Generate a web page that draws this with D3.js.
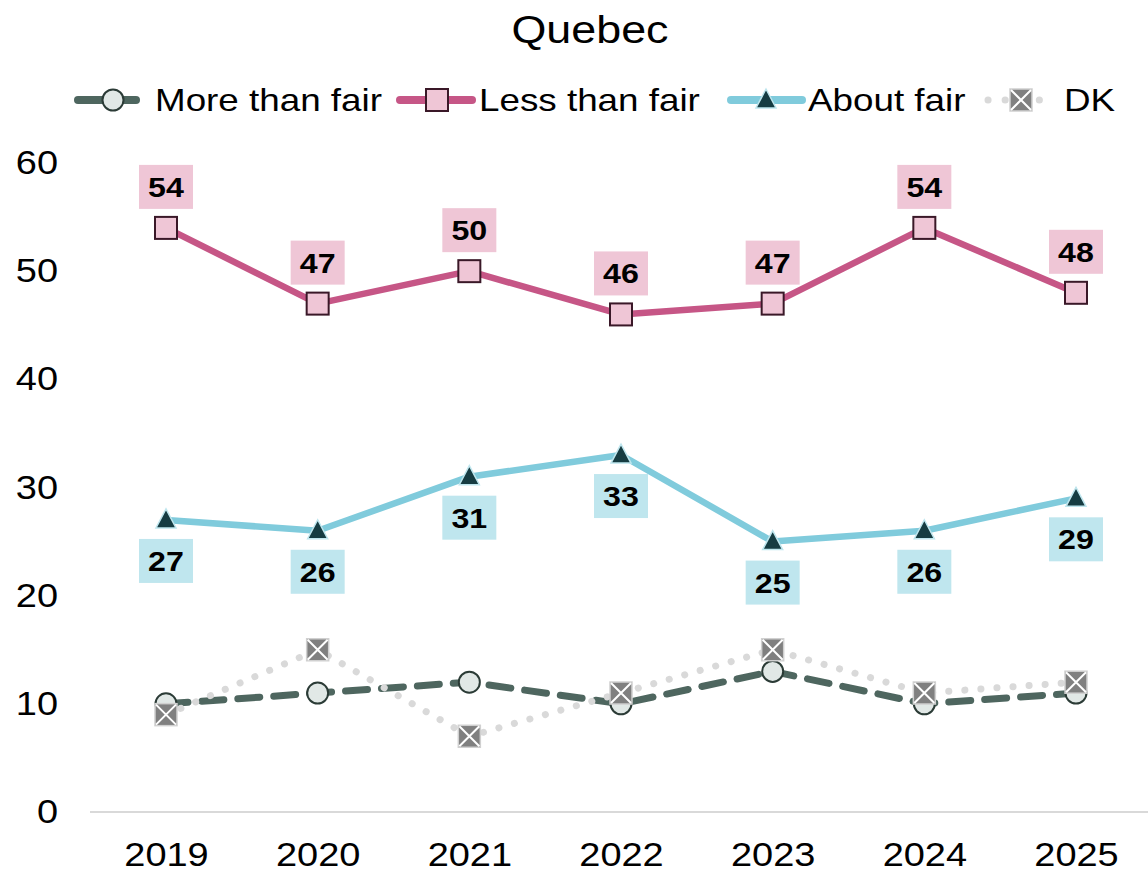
<!DOCTYPE html>
<html>
<head>
<meta charset="utf-8">
<script src="https://cdn.jsdelivr.net/npm/d3@7"></script>
<style>
  body { margin: 0; background: #fff; }
  text { font-family: "Liberation Sans", Arial, sans-serif; }
</style>
</head>
<body>
<div id="chart"></div>
<script>
// Data
const years = ['2019', '2020', '2021', '2022', '2023', '2024', '2025'];
const moreThanFair = [10, 11, 12, 10, 13, 10, 11];
const lessThanFair = [54, 47, 50, 46, 47, 54, 48];
const aboutFair = [27, 26, 31, 33, 25, 26, 29];
const dontKnow = [9, 15, 7, 11, 15, 11, 12];
const yTicks = [0, 10, 20, 30, 40, 50, 60];

const width = 1148, height = 873;
const margin = { top: 163, right: 72, bottom: 61, left: 90 };
const stretch = 1.15; // text in the picture is a little wider than normal

const svg = d3.select('#chart').append('svg')
    .attr('width', width)
    .attr('height', height);

const x = d3.scalePoint()
    .domain(years)
    .range([166, 1076]);

const y = d3.scaleLinear()
    .domain([0, 60])
    .range([height - margin.bottom, margin.top]);

// title
svg.append('text')
    .attr('transform', `translate(590,43) scale(${stretch},1)`)
    .attr('text-anchor', 'middle')
    .style('font-size', '39px')
    .text('Quebec');

// baseline
svg.append('line')
    .attr('x1', margin.left).attr('x2', width)
    .attr('y1', y(0)).attr('y2', y(0))
    .attr('stroke', '#d9d9d9').attr('stroke-width', 2);

// y-axis labels
svg.append('g')
    .attr('transform', `translate(58,0)`)
    .call(d3.axisLeft(y).tickValues(yTicks).tickSize(0).tickPadding(0))
    .call(g => g.select('.domain').remove())
    .selectAll('text')
    .attr('x', 0)
    .attr('text-anchor', 'end')
    .attr('transform', `scale(${stretch},1)`)
    .style('font-size', '33px')
    .style('font-family', '"Liberation Sans", Arial, sans-serif')
    .attr('fill', '#000');

// x-axis labels
svg.append('g')
    .attr('transform', `translate(0,${y(0)})`)
    .call(d3.axisBottom(x).tickSize(0).tickPadding(31))
    .call(g => g.select('.domain').remove())
    .selectAll('text')
    .attr('transform', `scale(${stretch},1)`)
    .style('font-size', '33px')
    .style('font-family', '"Liberation Sans", Arial, sans-serif')
    .attr('fill', '#000');

const series = [
    { name: 'More than fair', values: moreThanFair, color: '#4e665f', width: 7, dash: '22,14', marker: 'circle', fill: '#e1e8e6', stroke: '#2b3b36' },
    { name: 'Less than fair', values: lessThanFair, color: '#c65686', width: 6.5, dash: null, marker: 'square', fill: '#efc6d6', stroke: '#3a1828', label: 'above', labelBg: '#efc6d6' },
    { name: 'About fair', values: aboutFair, color: '#80cbdc', width: 6.5, dash: null, marker: 'triangle', fill: '#163c42', stroke: '#bfe6ee', label: 'below', labelBg: '#bfe6ee' },
    { name: 'DK', values: dontKnow, color: '#d9d9d9', width: 7, dash: '0.1,16', marker: 'xbox', fill: '#808080', stroke: '#d0d0d0' }
];

const line = d3.line()
    .x((d, i) => x(years[i]))
    .y(d => y(d));

const drawMarker = (g, s, cx, cy) => {
    if (s.marker === 'circle') {
        g.append('circle').attr('cx', cx).attr('cy', cy).attr('r', 10.5)
            .attr('fill', s.fill).attr('stroke', s.stroke).attr('stroke-width', 2);
    } else if (s.marker === 'square') {
        g.append('rect').attr('x', cx - 11).attr('y', cy - 11).attr('width', 22).attr('height', 22)
            .attr('fill', s.fill).attr('stroke', s.stroke).attr('stroke-width', 2);
    } else if (s.marker === 'triangle') {
        g.append('path')
            .attr('d', `M${cx},${cy - 11}L${cx + 10},${cy + 8}L${cx - 10},${cy + 8}Z`)
            .attr('fill', s.fill).attr('stroke', s.stroke).attr('stroke-width', 1.5);
    } else {
        g.append('rect').attr('x', cx - 11).attr('y', cy - 11).attr('width', 22).attr('height', 22)
            .attr('fill', s.fill).attr('stroke', s.stroke).attr('stroke-width', 1.5);
        g.append('path')
            .attr('d', `M${cx - 10},${cy - 10}L${cx + 10},${cy + 10}M${cx + 10},${cy - 10}L${cx - 10},${cy + 10}`)
            .attr('stroke', '#fff').attr('stroke-width', 2);
    }
};

// lines
series.forEach(s => {
    svg.append('path')
        .datum(s.values)
        .attr('d', line)
        .attr('fill', 'none')
        .attr('stroke', s.color)
        .attr('stroke-width', s.width)
        .attr('stroke-linecap', 'round')
        .attr('stroke-linejoin', 'round')
        .attr('stroke-dasharray', s.dash);
});

// markers
series.forEach(s => {
    const g = svg.append('g');
    s.values.forEach((v, i) => drawMarker(g, s, x(years[i]), y(v)));
});

// data labels
series.filter(s => s.label).forEach(s => {
    s.values.forEach((v, i) => {
        const cx = x(years[i]);
        const cy = y(v) + (s.label === 'above' ? -41 : 41);
        svg.append('rect')
            .attr('x', cx - 27).attr('y', cy - 22)
            .attr('width', 54).attr('height', 44)
            .attr('fill', s.labelBg);
        svg.append('text')
            .attr('transform', `translate(${cx},${cy + 10}) scale(${stretch},1)`)
            .attr('text-anchor', 'middle')
            .style('font-size', '28px')
            .style('font-weight', 'bold')
            .text(v);
    });
});

// legend
const legendItems = [
    { s: series[0], x1: 78, x2: 136, mx: 113, text: 155 },
    { s: series[1], x1: 400, x2: 472, mx: 437, text: 479 },
    { s: series[2], x1: 731, x2: 802, mx: 766, text: 808 },
    { s: series[3], x1: 988, x2: 1040, mx: 1021, text: 1064 }
];
legendItems.forEach(item => {
    const ly = 100;
    const g = svg.append('g');
    g.append('line')
        .attr('x1', item.x1).attr('x2', item.x2)
        .attr('y1', ly).attr('y2', ly)
        .attr('stroke', item.s.color)
        .attr('stroke-width', item.s.name === 'DK' ? 7 : 8)
        .attr('stroke-linecap', 'round')
        .attr('stroke-dasharray', item.s.name === 'DK' ? '0.1,17' : null);
    drawMarker(g, item.s, item.mx, ly);
    g.append('text')
        .attr('transform', `translate(${item.text},${ly + 11}) scale(${stretch},1)`)
        .style('font-size', '32px')
        .text(item.s.name);
});
</script>
</body>
</html>
